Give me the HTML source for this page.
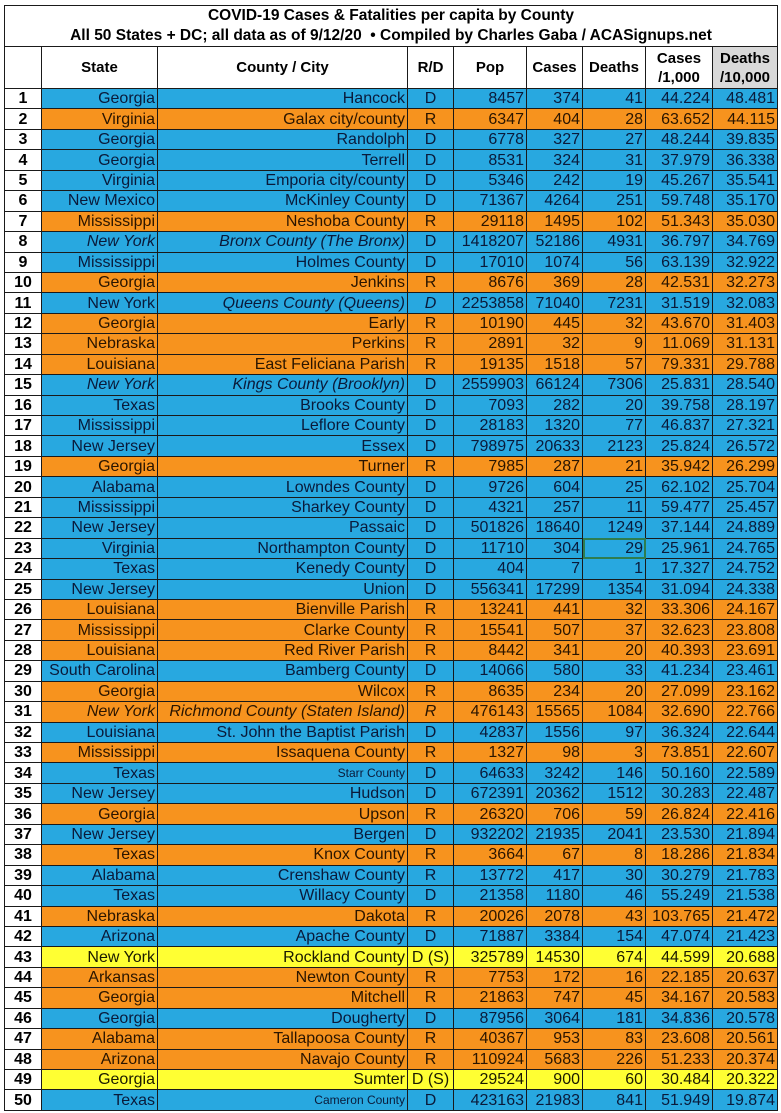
<!DOCTYPE html>
<html><head><meta charset="utf-8"><style>
body{margin:0;background:#fff;width:781px;height:1113px;overflow:hidden;font-family:"Liberation Sans Narrow","Liberation Sans",Arial,sans-serif;}
.wrap{position:absolute;left:4px;top:5px;}
table{border-collapse:collapse;table-layout:fixed;}
td{border:1px solid #1a1a1a;padding:0 2px;height:19.44px;line-height:19px;font-size:16px;color:#0a1a3a;text-align:right;white-space:nowrap;overflow:hidden;}
.t td{font-family:"Liberation Sans",Arial,sans-serif;font-weight:bold;color:#000;text-align:center;font-size:15.5px;line-height:20px;height:20px;border-bottom:none;}
.t2 td{border-top:none;border-bottom:1px solid #1a1a1a;}
.h td{font-family:"Liberation Sans",Arial,sans-serif;font-weight:bold;color:#000;text-align:center;font-size:15px;line-height:19px;height:41px;background:#fff;}
.D td{background:#28a8e0;}
.R td{background:#f7931e;color:#2a1500;}
.Y td{background:#ffff33;color:#1a1a00;}
tr td.n{background:#fff;color:#000;font-weight:bold;text-align:center;font-family:"Liberation Sans",Arial,sans-serif;}
td.c{text-align:center;}
.i{font-style:italic;}
.s{font-size:12px;}
</style></head><body><div class="wrap"><table>
<colgroup><col style="width:37px"><col style="width:116px"><col style="width:250px"><col style="width:46px"><col style="width:73px"><col style="width:56px"><col style="width:63px"><col style="width:67px"><col style="width:65px"></colgroup>
<tr class="t"><td colspan="9">COVID-19 Cases &amp; Fatalities per capita by County</td></tr>
<tr class="t t2"><td colspan="9">All 50 States + DC; all data as of 9/12/20 &nbsp;• Compiled by Charles Gaba / ACASignups.net</td></tr>
<tr class="h"><td></td><td>State</td><td>County / City</td><td>R/D</td><td>Pop</td><td>Cases</td><td>Deaths</td><td>Cases<br>/1,000</td><td style="background:#d9d9d9">Deaths<br>/10,000</td></tr>
<tr class="D"><td class="n">1</td><td>Georgia</td><td>Hancock</td><td class="c">D</td><td>8457</td><td>374</td><td>41</td><td>44.224</td><td>48.481</td></tr>
<tr class="R"><td class="n">2</td><td>Virginia</td><td>Galax city/county</td><td class="c">R</td><td>6347</td><td>404</td><td>28</td><td>63.652</td><td>44.115</td></tr>
<tr class="D"><td class="n">3</td><td>Georgia</td><td>Randolph</td><td class="c">D</td><td>6778</td><td>327</td><td>27</td><td>48.244</td><td>39.835</td></tr>
<tr class="D"><td class="n">4</td><td>Georgia</td><td>Terrell</td><td class="c">D</td><td>8531</td><td>324</td><td>31</td><td>37.979</td><td>36.338</td></tr>
<tr class="D"><td class="n">5</td><td>Virginia</td><td>Emporia city/county</td><td class="c">D</td><td>5346</td><td>242</td><td>19</td><td>45.267</td><td>35.541</td></tr>
<tr class="D"><td class="n">6</td><td>New Mexico</td><td>McKinley County</td><td class="c">D</td><td>71367</td><td>4264</td><td>251</td><td>59.748</td><td>35.170</td></tr>
<tr class="R"><td class="n">7</td><td>Mississippi</td><td>Neshoba County</td><td class="c">R</td><td>29118</td><td>1495</td><td>102</td><td>51.343</td><td>35.030</td></tr>
<tr class="D"><td class="n">8</td><td class="i">New York</td><td class="i">Bronx County (The Bronx)</td><td class="c">D</td><td>1418207</td><td>52186</td><td>4931</td><td>36.797</td><td>34.769</td></tr>
<tr class="D"><td class="n">9</td><td>Mississippi</td><td>Holmes County</td><td class="c">D</td><td>17010</td><td>1074</td><td>56</td><td>63.139</td><td>32.922</td></tr>
<tr class="R"><td class="n">10</td><td>Georgia</td><td>Jenkins</td><td class="c">R</td><td>8676</td><td>369</td><td>28</td><td>42.531</td><td>32.273</td></tr>
<tr class="D"><td class="n">11</td><td>New York</td><td class="i">Queens County (Queens)</td><td class="c i">D</td><td>2253858</td><td>71040</td><td>7231</td><td>31.519</td><td>32.083</td></tr>
<tr class="R"><td class="n">12</td><td>Georgia</td><td>Early</td><td class="c">R</td><td>10190</td><td>445</td><td>32</td><td>43.670</td><td>31.403</td></tr>
<tr class="R"><td class="n">13</td><td>Nebraska</td><td>Perkins</td><td class="c">R</td><td>2891</td><td>32</td><td>9</td><td>11.069</td><td>31.131</td></tr>
<tr class="R"><td class="n">14</td><td>Louisiana</td><td>East Feliciana Parish</td><td class="c">R</td><td>19135</td><td>1518</td><td>57</td><td>79.331</td><td>29.788</td></tr>
<tr class="D"><td class="n">15</td><td class="i">New York</td><td class="i">Kings County (Brooklyn)</td><td class="c">D</td><td>2559903</td><td>66124</td><td>7306</td><td>25.831</td><td>28.540</td></tr>
<tr class="D"><td class="n">16</td><td>Texas</td><td>Brooks County</td><td class="c">D</td><td>7093</td><td>282</td><td>20</td><td>39.758</td><td>28.197</td></tr>
<tr class="D"><td class="n">17</td><td>Mississippi</td><td>Leflore County</td><td class="c">D</td><td>28183</td><td>1320</td><td>77</td><td>46.837</td><td>27.321</td></tr>
<tr class="D"><td class="n">18</td><td>New Jersey</td><td>Essex</td><td class="c">D</td><td>798975</td><td>20633</td><td>2123</td><td>25.824</td><td>26.572</td></tr>
<tr class="R"><td class="n">19</td><td>Georgia</td><td>Turner</td><td class="c">R</td><td>7985</td><td>287</td><td>21</td><td>35.942</td><td>26.299</td></tr>
<tr class="D"><td class="n">20</td><td>Alabama</td><td>Lowndes County</td><td class="c">D</td><td>9726</td><td>604</td><td>25</td><td>62.102</td><td>25.704</td></tr>
<tr class="D"><td class="n">21</td><td>Mississippi</td><td>Sharkey County</td><td class="c">D</td><td>4321</td><td>257</td><td>11</td><td>59.477</td><td>25.457</td></tr>
<tr class="D"><td class="n">22</td><td>New Jersey</td><td>Passaic</td><td class="c">D</td><td>501826</td><td>18640</td><td>1249</td><td>37.144</td><td>24.889</td></tr>
<tr class="D"><td class="n">23</td><td>Virginia</td><td>Northampton County</td><td class="c">D</td><td>11710</td><td>304</td><td style="outline:2px solid #2e7d4f;outline-offset:-2px">29</td><td>25.961</td><td>24.765</td></tr>
<tr class="D"><td class="n">24</td><td>Texas</td><td>Kenedy County</td><td class="c">D</td><td>404</td><td>7</td><td>1</td><td>17.327</td><td>24.752</td></tr>
<tr class="D"><td class="n">25</td><td>New Jersey</td><td>Union</td><td class="c">D</td><td>556341</td><td>17299</td><td>1354</td><td>31.094</td><td>24.338</td></tr>
<tr class="R"><td class="n">26</td><td>Louisiana</td><td>Bienville Parish</td><td class="c">R</td><td>13241</td><td>441</td><td>32</td><td>33.306</td><td>24.167</td></tr>
<tr class="R"><td class="n">27</td><td>Mississippi</td><td>Clarke County</td><td class="c">R</td><td>15541</td><td>507</td><td>37</td><td>32.623</td><td>23.808</td></tr>
<tr class="R"><td class="n">28</td><td>Louisiana</td><td>Red River Parish</td><td class="c">R</td><td>8442</td><td>341</td><td>20</td><td>40.393</td><td>23.691</td></tr>
<tr class="D"><td class="n">29</td><td>South Carolina</td><td>Bamberg County</td><td class="c">D</td><td>14066</td><td>580</td><td>33</td><td>41.234</td><td>23.461</td></tr>
<tr class="R"><td class="n">30</td><td>Georgia</td><td>Wilcox</td><td class="c">R</td><td>8635</td><td>234</td><td>20</td><td>27.099</td><td>23.162</td></tr>
<tr class="R"><td class="n">31</td><td class="i">New York</td><td class="i">Richmond County (Staten Island)</td><td class="c i">R</td><td>476143</td><td>15565</td><td>1084</td><td>32.690</td><td>22.766</td></tr>
<tr class="D"><td class="n">32</td><td>Louisiana</td><td>St. John the Baptist Parish</td><td class="c">D</td><td>42837</td><td>1556</td><td>97</td><td>36.324</td><td>22.644</td></tr>
<tr class="R"><td class="n">33</td><td>Mississippi</td><td>Issaquena County</td><td class="c">R</td><td>1327</td><td>98</td><td>3</td><td>73.851</td><td>22.607</td></tr>
<tr class="D"><td class="n">34</td><td>Texas</td><td class="s">Starr County</td><td class="c">D</td><td>64633</td><td>3242</td><td>146</td><td>50.160</td><td>22.589</td></tr>
<tr class="D"><td class="n">35</td><td>New Jersey</td><td>Hudson</td><td class="c">D</td><td>672391</td><td>20362</td><td>1512</td><td>30.283</td><td>22.487</td></tr>
<tr class="R"><td class="n">36</td><td>Georgia</td><td>Upson</td><td class="c">R</td><td>26320</td><td>706</td><td>59</td><td>26.824</td><td>22.416</td></tr>
<tr class="D"><td class="n">37</td><td>New Jersey</td><td>Bergen</td><td class="c">D</td><td>932202</td><td>21935</td><td>2041</td><td>23.530</td><td>21.894</td></tr>
<tr class="R"><td class="n">38</td><td>Texas</td><td>Knox County</td><td class="c">R</td><td>3664</td><td>67</td><td>8</td><td>18.286</td><td>21.834</td></tr>
<tr class="D"><td class="n">39</td><td>Alabama</td><td>Crenshaw County</td><td class="c">R</td><td>13772</td><td>417</td><td>30</td><td>30.279</td><td>21.783</td></tr>
<tr class="D"><td class="n">40</td><td>Texas</td><td>Willacy County</td><td class="c">D</td><td>21358</td><td>1180</td><td>46</td><td>55.249</td><td>21.538</td></tr>
<tr class="R"><td class="n">41</td><td>Nebraska</td><td>Dakota</td><td class="c">R</td><td>20026</td><td>2078</td><td>43</td><td>103.765</td><td>21.472</td></tr>
<tr class="D"><td class="n">42</td><td>Arizona</td><td>Apache County</td><td class="c">D</td><td>71887</td><td>3384</td><td>154</td><td>47.074</td><td>21.423</td></tr>
<tr class="Y"><td class="n">43</td><td>New York</td><td>Rockland County</td><td class="c">D (S)</td><td>325789</td><td>14530</td><td>674</td><td>44.599</td><td>20.688</td></tr>
<tr class="R"><td class="n">44</td><td>Arkansas</td><td>Newton County</td><td class="c">R</td><td>7753</td><td>172</td><td>16</td><td>22.185</td><td>20.637</td></tr>
<tr class="R"><td class="n">45</td><td>Georgia</td><td>Mitchell</td><td class="c">R</td><td>21863</td><td>747</td><td>45</td><td>34.167</td><td>20.583</td></tr>
<tr class="D"><td class="n">46</td><td>Georgia</td><td>Dougherty</td><td class="c">D</td><td>87956</td><td>3064</td><td>181</td><td>34.836</td><td>20.578</td></tr>
<tr class="R"><td class="n">47</td><td>Alabama</td><td>Tallapoosa County</td><td class="c">R</td><td>40367</td><td>953</td><td>83</td><td>23.608</td><td>20.561</td></tr>
<tr class="R"><td class="n">48</td><td>Arizona</td><td>Navajo County</td><td class="c">R</td><td>110924</td><td>5683</td><td>226</td><td>51.233</td><td>20.374</td></tr>
<tr class="Y"><td class="n">49</td><td>Georgia</td><td>Sumter</td><td class="c">D (S)</td><td>29524</td><td>900</td><td>60</td><td>30.484</td><td>20.322</td></tr>
<tr class="D"><td class="n">50</td><td>Texas</td><td class="s">Cameron County</td><td class="c">D</td><td>423163</td><td>21983</td><td>841</td><td>51.949</td><td>19.874</td></tr>
</table></div></body></html>
